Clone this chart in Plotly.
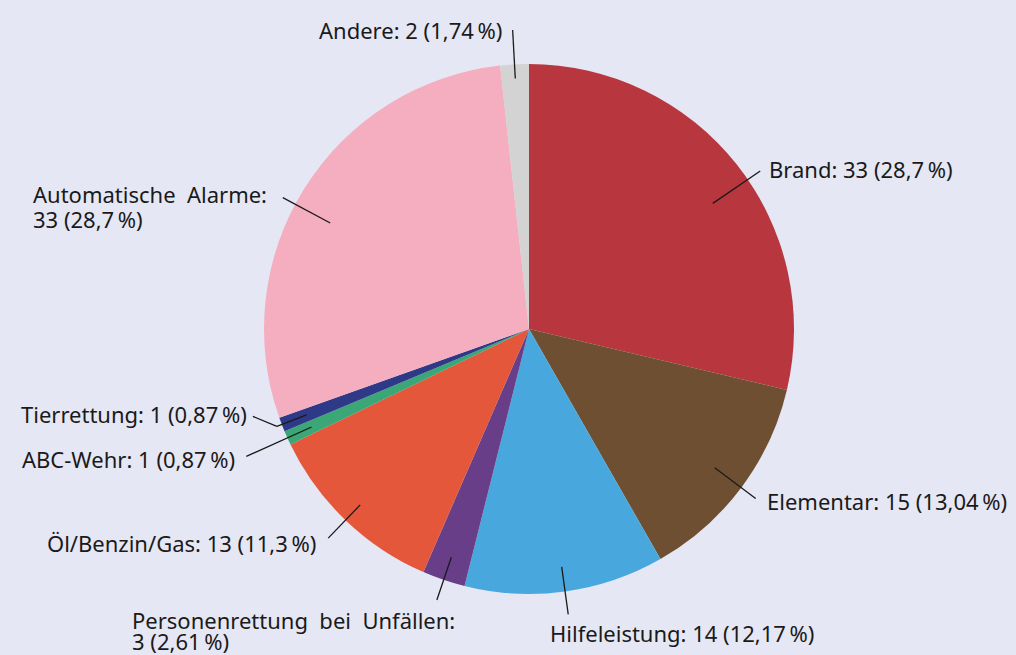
import math
import plotly.graph_objects as go

# ---- data ----
categories = ["Brand", "Elementar", "Hilfeleistung", "Personenrettung bei Unfällen",
              "Öl/Benzin/Gas", "ABC-Wehr", "Tierrettung", "Automatische Alarme", "Andere"]
values = [33, 15, 14, 3, 13, 1, 1, 33, 2]
colors = ["#B8373E", "#6F4F31", "#48A8DE", "#673E87", "#E5573A",
          "#3BA776", "#2E3A87", "#F5AEBF", "#D3D3D3"]
label_names = ["Brand:", "Elementar:", "Hilfeleistung:", "Personenrettung  bei  Unfällen:",
               "Öl/Benzin/Gas:", "ABC-Wehr:", "Tierrettung:", "Automatische  Alarme:", "Andere:"]
two_line = [False, False, False, True, False, False, False, True, False]

# ---- layout params (pixels) ----
W, H = 1016, 655
CX, CY, R = 529, 329, 265
angle_delta = [4, 0, 0, 0, 0, 0, 0, -4, 0]
r_in = [0.84, 0.875, 0.906, 0.91, 0.92, 0.90, 0.90, 0.85, 0.947]
r_out = [1.057, 1.068, 1.087, 1.08, 1.094, 1.17, 1.02, 1.053, 1.13]
extra_seg = [None, None, None, None, None, None, (-24, -10), None, None]
# (dx, dy of first line centre, anchor, line spacing)
text_off = [(8, -2, "left", 0), (10, 3, "left", 0), (-19, 19, "left", 0), (-306, 20, "left", 21),
            (-11, 5, "right", 0), (-10, 3, "right", 0), (-5, -2, "right", 0), (-251, -4, "left", 25),
            (-10, 0, "right", 0)]
FONT = dict(family="Noto Sans, Open Sans, sans-serif", size=22, color="#1a1a1a")

def px(x, y):
    return x / W, 1 - y / H

def fmt_pct(v, total):
    p = round(v / total * 100, 2)
    s = f"{p:.2f}".rstrip("0").rstrip(".")
    return s.replace(".", ",")

total = sum(values)

fig = go.Figure(go.Pie(
    labels=categories, values=values, sort=False, direction="clockwise", rotation=0,
    marker=dict(colors=colors, line=dict(width=0)),
    textinfo="none", hoverinfo="label+value+percent", showlegend=False,
    domain=dict(x=[(CX - R) / W, (CX + R) / W], y=[1 - (CY + R) / H, 1 - (CY - R) / H]),
))

shapes, annotations = [], []
cum = 0
for i, v in enumerate(values):
    mid = (cum + v / 2) / total * 360 + angle_delta[i]
    cum += v
    a = math.radians(mid)
    x0, y0 = CX + r_in[i] * R * math.sin(a), CY - r_in[i] * R * math.cos(a)
    x1, y1 = CX + r_out[i] * R * math.sin(a), CY - r_out[i] * R * math.cos(a)
    pts = [(x0, y0), (x1, y1)]
    if extra_seg[i]:
        pts.append((x1 + extra_seg[i][0], y1 + extra_seg[i][1]))
    for (ax_, ay_), (bx_, by_) in zip(pts[:-1], pts[1:]):
        p0, p1 = px(ax_, ay_), px(bx_, by_)
        shapes.append(dict(type="line", xref="paper", yref="paper",
                           x0=p0[0], y0=p0[1], x1=p1[0], y1=p1[1],
                           line=dict(color="#1a1a1a", width=1.3)))
    ex, ey = pts[-1]
    dx, dy, anch, spacing = text_off[i]
    val_txt = f"{values[i]} ({fmt_pct(v, total)}\u2009%)"
    lines = [label_names[i], val_txt] if two_line[i] else [f"{label_names[i]} {val_txt}"]
    for k, line in enumerate(lines):
        tx, ty = px(ex + dx, ey + dy + k * spacing)
        annotations.append(dict(x=tx, y=ty, xref="paper", yref="paper", text=line,
                                showarrow=False, xanchor=anch, yanchor="middle", align="left",
                                borderpad=0, font=FONT))

fig.update_layout(
    width=W, height=H, margin=dict(l=0, r=0, t=0, b=0),
    paper_bgcolor="#E6E7F4", plot_bgcolor="#E6E7F4",
    shapes=shapes, annotations=annotations,
)
fig.write_html("out.html", config={"displayModeBar": False},
               post_script="document.body.style.margin='0';")
